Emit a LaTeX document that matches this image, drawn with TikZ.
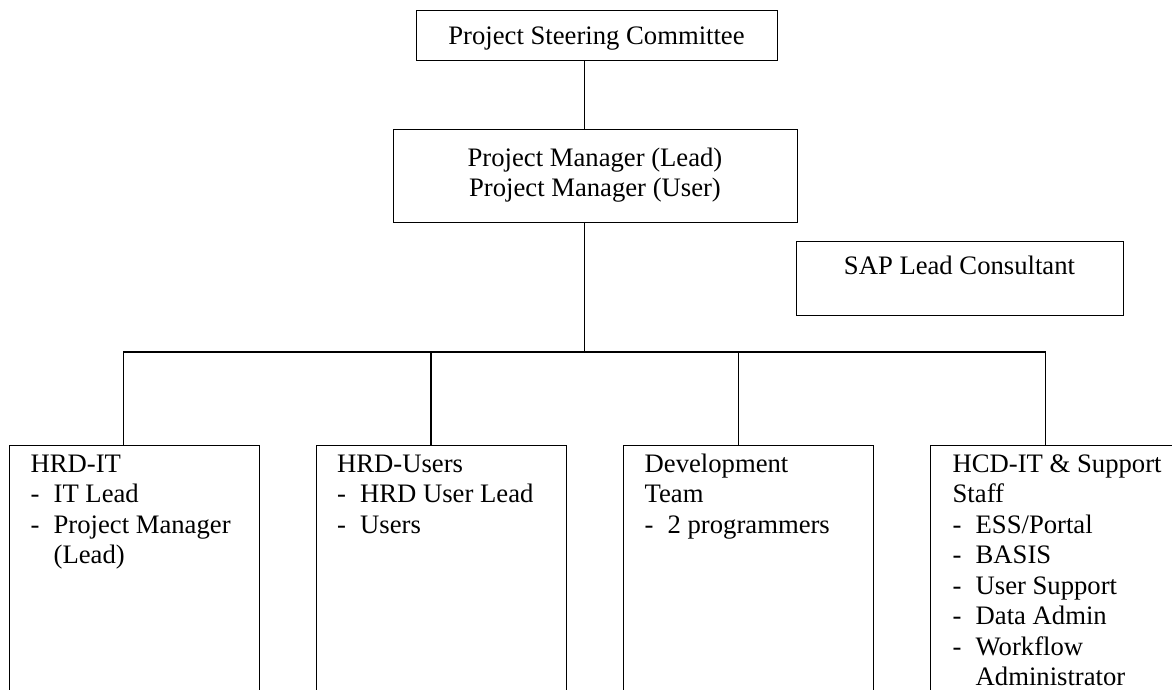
\documentclass[tikz,border=0pt]{standalone}
\usepackage{fontspec}
\setmainfont{Liberation Serif}
\usetikzlibrary{calc}
\newcommand\dashitem{\makebox[10.35pt][l]{-}}
\newcommand\contline{\hspace*{10.35pt}}
\begin{document}
\begin{tikzpicture}[x=0.45pt,y=-0.45pt,line width=0.6pt,
  box/.style={draw=black,rectangle,inner sep=0pt,anchor=north west},
  txt/.style={inner sep=0pt,font=\fontsize{12}{13.75}\selectfont},
  lowbox/.style={box,minimum width=112.5pt,minimum height=117pt},
  conn/.style={draw=black,line width=0.6pt}]
\useasboundingbox (0,0) rectangle (1172,690);
\clip (0,0) rectangle (1172,690);
% boxes
\node[box,minimum width=162.45pt,minimum height=22.5pt] (steer) at (416,10) {};
\node[box,minimum width=181.8pt,minimum height=41.85pt] (pm) at (393,129) {};
\node[box,minimum width=147.15pt,minimum height=33.3pt] (sap) at (796,241) {};
\node[lowbox] (b1) at (8.5,445) {};
\node[lowbox] (b2) at (316,445) {};
\node[lowbox] (b3) at (623,445) {};
\node[lowbox] (b4) at (930,445) {};
% texts
\node[txt,anchor=base] (steertxt) at (596.5,44) {Project Steering Committee};
\node[txt,anchor=base] (pmtxt) at (595,166) {\begin{tabular}[t]{@{}c@{}}Project Manager (Lead)\\Project Manager (User)\end{tabular}};
\node[txt,anchor=base] (saptxt) at (959.5,274) {SAP Lead Consultant};
\node[txt,anchor=base west] (t1) at ($(b1.north west)+(21.5,27)$) {\begin{tabular}[t]{@{}l@{}}HRD-IT\\\dashitem IT Lead\\\dashitem Project Manager\\\contline(Lead)\end{tabular}};
\node[txt,anchor=base west] (t2) at ($(b2.north west)+(20.5,27)$) {\begin{tabular}[t]{@{}l@{}}HRD-Users\\\dashitem HRD User Lead\\\dashitem Users\end{tabular}};
\node[txt,anchor=base west] (t3) at ($(b3.north west)+(21,27)$) {\begin{tabular}[t]{@{}l@{}}Development\\Team\\\dashitem 2 programmers\end{tabular}};
\node[txt,anchor=base west] (t4) at ($(b4.north west)+(22,27)$) {\begin{tabular}[t]{@{}l@{}}HCD-IT \& Support\\Staff\\\dashitem ESS/Portal\\\dashitem BASIS\\\dashitem User Support\\\dashitem Data Admin\\\dashitem Workflow\\\contline Administrator\end{tabular}};
% connectors
\coordinate (spine) at (584.5,0);
\coordinate (bus) at (0,352);
\coordinate (d1) at ($(b1.north west)+(115,0)$);
\coordinate (d2) at ($(b2.north west)+(115,0)$);
\coordinate (d3) at ($(b3.north west)+(115.5,0)$);
\coordinate (d4) at ($(b4.north west)+(115.5,0)$);
\draw[conn] (steer.south -| spine) -- (pm.north -| spine);
\draw[conn] (pm.south -| spine) -- (spine |- bus);
\draw[conn] (d1) -- (d1 |- bus) -- (d4 |- bus) -- (d4);
\draw[conn] (d2) -- (d2 |- bus);
\draw[conn] (d3) -- (d3 |- bus);
\end{tikzpicture}
\end{document}
